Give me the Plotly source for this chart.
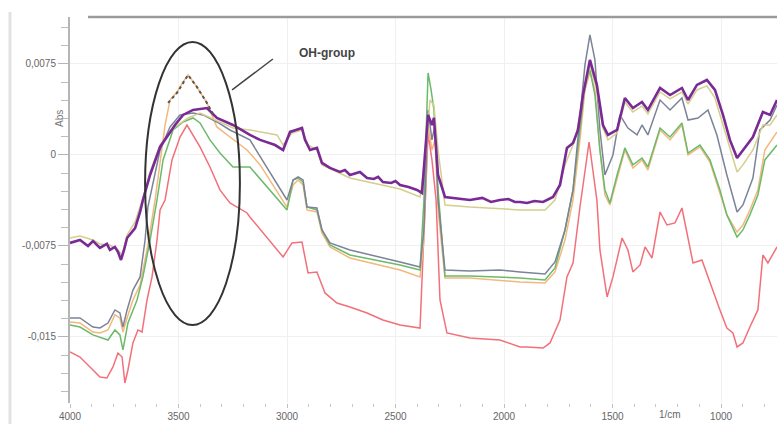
import plotly.graph_objects as go

# FTIR spectra: (wavenumber 1/cm, absorbance)
PURPLE = [(4000,-0.00725),(3954,-0.00701),(3917,-0.00750),(3894,-0.00709),(3862,-0.00766),(3830,-0.00733),
          (3816,-0.00783),(3793,-0.00758),(3779,-0.00799),(3765,-0.00865),(3751,-0.00783),(3737,-0.00684),
          (3700,-0.00602),(3677,-0.00470),(3664,-0.00371),(3631,-0.00165),(3585,0.00066),(3516,0.00247),
          (3479,0.00330),(3433,0.00371),(3369,0.00387),(3323,0.00305),(3249,0.00247),(3171,0.00165),
          (3124,0.00124),(3055,0.00082),(3018,0.00041),(2986,0.00190),(2959,0.00206),(2931,0.00222),
          (2917,0.00124),(2894,0.00041),(2862,0.00058),(2839,-0.00066),(2802,-0.00107),(2756,-0.00140),
          (2733,-0.00124),(2710,-0.00165),(2664,-0.00140),(2631,-0.00190),(2600,-0.00198),(2580,-0.00180),
          (2558,-0.00223),(2520,-0.00231),(2500,-0.00215),(2479,-0.00247),(2440,-0.00264),(2401,-0.00288),
          (2378,-0.00313),
          (2364,0.00041),(2350,0.00330),(2332,0.00247),(2323,0.00305),(2304,-0.00165),(2272,-0.00346),
          (2157,-0.00371),(2100,-0.00354),(2060,-0.00387),(2019,-0.00371),(1980,-0.00363),(1950,-0.00387),
          (1926,-0.00387),(1894,-0.00396),(1860,-0.00379),(1820,-0.00387),(1774,-0.00346),
          (1742,-0.00247),(1710,0.00058),(1682,0.00099),(1659,0.00206),(1636,0.00494),(1604,0.00783),
          (1572,0.00577),(1544,0.00247),(1521,0.00165),(1479,0.00206),(1443,0.00470),(1406,0.00387),
          (1364,0.00437),(1337,0.00371),(1281,0.00552),(1235,0.00494),(1180,0.00552),(1152,0.00453),
          (1111,0.00577),(1065,0.00618),(1028,0.00536),(991,0.00330),(959,0.00124),(926,-0.00025),
          (899,0.00041),(853,0.00148),(807,0.00354),(774,0.00330),(742,0.00453)]

PALE = [(4000,-0.00684),(3954,-0.00668),(3894,-0.00701),(3862,-0.00733),(3816,-0.00742),(3779,-0.00783),
        (3760,-0.00824),(3737,-0.00659),(3700,-0.00552),(3664,-0.00354),(3631,-0.00140),(3585,0.00082),
        (3516,0.00231),(3456,0.00305),(3401,0.00346),(3332,0.00288),(3249,0.00222),(3171,0.00206),
        (3046,0.00165),(3018,0.00082),(2977,0.00181),(2931,0.00206),(2903,0.00082),(2862,0.00041),
        (2839,-0.00082),(2710,-0.00190),(2479,-0.00280),(2387,-0.00346),(2364,-0.00041),(2341,0.00453),
        (2323,0.00412),(2304,0.00041),(2272,-0.00412),(2157,-0.00429),(1926,-0.00453),(1811,-0.00453),
        (1765,-0.00371),(1719,-0.00082),(1673,0.00124),(1636,0.00453),(1604,0.00742),(1572,0.00536),
        (1544,0.00222),(1521,0.00124),(1479,0.00181),(1443,0.00437),(1406,0.00354),(1364,0.00404),
        (1337,0.00338),(1281,0.00519),(1235,0.00462),(1180,0.00519),(1152,0.00420),(1111,0.00536),
        (1065,0.00569),(1028,0.00470),(991,0.00247),(959,0.00041),(926,-0.00140),(899,-0.00082),
        (853,0.00041),(807,0.00247),(774,0.00247),(742,0.00330)]

GRAY = [(4000,-0.01343),(3954,-0.01343),(3894,-0.01418),(3862,-0.01426),(3825,-0.01385),(3793,-0.01277),
        (3770,-0.01302),(3756,-0.01418),(3737,-0.01277),(3710,-0.01113),(3677,-0.01005),(3654,-0.00701),
        (3641,-0.00429),(3622,-0.00264),(3585,0.00041),(3539,0.00231),(3493,0.00330),(3433,0.00346),
        (3387,0.00330),(3323,0.00272),(3263,0.00206),(3171,0.00124),(3000,-0.00371),(2972,-0.00206),
        (2949,-0.00181),(2926,-0.00206),(2908,-0.00429),(2862,-0.00437),(2839,-0.00618),(2802,-0.00725),
        (2710,-0.00783),(2479,-0.00882),(2387,-0.00923),(2369,-0.00618),(2350,0.00371),(2332,0.00124),
        (2318,0.00247),(2304,-0.00371),(2272,-0.00948),(2157,-0.00956),(2019,-0.00948),(1926,-0.00964),
        (1811,-0.00981),(1765,-0.00882),(1719,-0.00618),(1682,-0.00288),(1650,0.00288),(1627,0.00742),
        (1604,0.00989),(1581,0.00783),(1558,0.00206),(1535,-0.00165),(1498,0.0),(1466,0.00330),
        (1429,0.00222),(1387,0.00165),(1364,0.00247),(1337,0.00165),(1281,0.00453),(1235,0.00371),
        (1180,0.00470),(1152,0.00288),(1106,0.00305),(1060,0.00371),(1019,0.00165),(973,-0.00165),
        (926,-0.00470),(899,-0.00412),(853,-0.00190),(821,0.00206),(774,0.00288),(742,0.00412)]

ORANGE = [(4000,-0.01376),(3954,-0.01385),(3894,-0.01459),(3862,-0.01467),(3825,-0.01442),(3793,-0.01318),
          (3770,-0.01343),(3756,-0.01459),(3737,-0.01343),(3710,-0.01195),(3677,-0.01071),(3641,-0.00742),
          (3608,-0.00371),(3585,-0.00041),(3562,0.00247),(3539,0.00453),(3507,0.00519),(3479,0.00602),
          (3456,0.00659),(3438,0.00618),(3415,0.00560),(3369,0.00429),(3323,0.00231),(3263,0.00148),
          (3184,0.00041),(3124,-0.00082),(3000,-0.00429),(2972,-0.00247),(2949,-0.00206),(2926,-0.00247),
          (2908,-0.00453),(2862,-0.00470),(2839,-0.00643),(2802,-0.00758),(2710,-0.00849),(2479,-0.00948),
          (2387,-0.01005),(2369,-0.00701),(2350,0.00247),(2332,0.00041),(2318,0.00124),(2304,-0.00453),
          (2272,-0.01014),(2157,-0.01014),(1926,-0.01047),(1811,-0.01055),(1765,-0.00964),(1719,-0.00701),
          (1682,-0.00371),(1650,0.00124),(1627,0.00536),(1604,0.00684),(1581,0.00536),(1558,0.00041),
          (1535,-0.00330),(1512,-0.00412),(1479,-0.00190),(1443,0.00041),(1406,-0.00107),(1364,-0.00041),
          (1337,-0.00124),(1281,0.00206),(1235,0.00124),(1180,0.00247),(1152,0.0),(1097,0.00066),
          (1051,-0.00058),(1005,-0.00305),(973,-0.00494),(926,-0.00635),(899,-0.00577),(867,-0.00453),
          (830,-0.00288),(798,0.00041),(742,0.00190)]

GREEN = [(4000,-0.01401),(3954,-0.01418),(3894,-0.01483),(3862,-0.01500),(3825,-0.01525),(3793,-0.01442),
         (3770,-0.01483),(3756,-0.01607),(3733,-0.01385),(3691,-0.01195),(3664,-0.01005),(3631,-0.00701),
         (3599,-0.00371),(3571,-0.00041),(3525,0.00206),(3479,0.00272),(3433,0.00305),(3401,0.00264),
         (3355,0.00124),(3309,0.00016),(3249,-0.00099),(3171,-0.00099),(3000,-0.00453),(2972,-0.00206),
         (2949,-0.00190),(2926,-0.00223),(2908,-0.00429),(2862,-0.00453),(2839,-0.00618),(2802,-0.00742),
         (2710,-0.00824),(2479,-0.00906),(2387,-0.00948),(2369,-0.00371),(2350,0.00676),(2336,0.00536),
         (2323,0.00371),(2304,-0.00288),(2272,-0.00997),(2157,-0.00997),(1926,-0.01014),(1811,-0.01030),
         (1765,-0.00931),(1719,-0.00618),(1682,-0.00288),(1650,0.00206),(1627,0.00577),(1604,0.00701),
         (1581,0.00494),(1558,0.00041),(1535,-0.00288),(1512,-0.00396),(1479,-0.00165),(1443,0.00058),
         (1406,-0.00082),(1364,-0.00025),(1337,-0.00099),(1281,0.00222),(1235,0.00148),(1180,0.00264),
         (1152,0.00016),(1097,0.00082),(1051,-0.00041),(1005,-0.00288),(973,-0.00494),(926,-0.00676),
         (899,-0.00618),(867,-0.00494),(830,-0.00330),(798,-0.00041),(742,0.00082)]

RED = [(4000,-0.01624),(3954,-0.01665),(3894,-0.01772),(3862,-0.01830),(3830,-0.01838),(3802,-0.01747),
       (3779,-0.01632),(3760,-0.01665),(3747,-0.01879),(3733,-0.01772),(3710,-0.01549),(3687,-0.01442),
       (3668,-0.01459),(3645,-0.01195),(3622,-0.01005),(3599,-0.00701),(3585,-0.00453),(3562,-0.00371),
       (3530,-0.00041),(3493,0.00148),(3461,0.00247),(3438,0.00181),(3401,0.00066),(3355,-0.00099),
       (3309,-0.00288),(3263,-0.00396),(3184,-0.00478),(3171,-0.00511),(3018,-0.00841),(2977,-0.00725),
       (2931,-0.00717),(2903,-0.00972),(2862,-0.00964),(2825,-0.01137),(2770,-0.01220),(2710,-0.01253),
       (2631,-0.01302),(2558,-0.01360),(2479,-0.01401),(2387,-0.01426),(2373,-0.00783),(2350,0.00181),
       (2332,-0.00041),(2313,-0.00371),(2295,-0.01195),(2263,-0.01467),(2157,-0.01508),(2019,-0.01525),
       (1926,-0.01582),(1894,-0.01582),(1820,-0.01591),(1788,-0.01549),(1742,-0.01360),(1710,-0.01005),
       (1682,-0.00890),(1650,-0.00429),(1608,0.00107),(1572,-0.00371),(1558,-0.00783),(1525,-0.01170),
       (1498,-0.01005),(1456,-0.00684),(1429,-0.00783),(1406,-0.00964),(1373,-0.00906),(1350,-0.00758),
       (1318,-0.00849),(1281,-0.00470),(1249,-0.00577),(1212,-0.00560),(1180,-0.00437),(1129,-0.00890),
       (1088,-0.00865),(1051,-0.01055),(1005,-0.01277),(973,-0.01426),(945,-0.01467),(926,-0.01582),
       (899,-0.01549),(867,-0.01418),(830,-0.01277),(807,-0.00824),(784,-0.00890),(742,-0.00758)]

DOTTED = [(3548,0.00429),(3507,0.00511),(3456,0.00659),(3415,0.00560),(3369,0.00429),(3341,0.00338)]

X_TICKS = [4000, 3500, 3000, 2500, 2000, 1500, 1000]
Y_TICKS = [0.0075, 0, -0.0075, -0.015]
Y_TICK_TEXT = ["0,0075", "0", "-0,0075", "-0,015"]

series = [
    (RED, "#f2707a", 1.5, "solid"),
    (ORANGE, "#f3b87c", 1.5, "solid"),
    (GREEN, "#6bba6b", 1.5, "solid"),
    (GRAY, "#7c8398", 1.5, "solid"),
    (PALE, "#d3cf8c", 1.5, "solid"),
    (PURPLE, "#7a2a95", 2.6, "solid"),
    (DOTTED, "#555555", 2.0, "dot"),
]

fig = go.Figure()
for data, color, width, dash in series:
    xs = [p[0] for p in data]
    ys = [p[1] for p in data]
    fig.add_trace(go.Scatter(x=xs, y=ys, mode="lines",
                             line=dict(color=color, width=width, dash=dash),
                             showlegend=False, hoverinfo="skip"))

font = "Liberation Sans, Arial, sans-serif"
fig.update_layout(
    width=777, height=424,
    margin=dict(l=70, r=0, t=17, b=21),
    paper_bgcolor="white", plot_bgcolor="white",
    font=dict(family=font, size=10, color="#666"),
    xaxis=dict(range=[4000, 742], tickvals=X_TICKS, ticktext=[str(v) for v in X_TICKS],
               showgrid=True, gridcolor="#f0f0f0", gridwidth=1, zeroline=False, showline=False,
               ticks="outside", ticklen=4, tickcolor="#c0c0c0",
               minor=dict(dtick=100, ticks="outside", ticklen=3, tickcolor="#c8c8c8", showgrid=False),
               tickfont=dict(size=10, color="#666")),
    yaxis=dict(range=[-0.02044, 0.01137], tickvals=Y_TICKS, ticktext=Y_TICK_TEXT,
               showgrid=True, gridcolor="#f0f0f0", gridwidth=1, zeroline=False,
               showline=True, linecolor="#b5b5b5", linewidth=2,
               ticks="outside", ticklen=10, tickcolor="#b5b5b5",
               minor=dict(dtick=0.0015, ticks="outside", ticklen=7, tickcolor="#bdbdbd", showgrid=False),
               tickfont=dict(size=10, color="#666")),
)

fig.add_shape(type="circle", xref="x", yref="y", x0=3654, x1=3217, y0=-0.01401, y1=0.00931,
              line=dict(color="#333", width=2))
fig.add_shape(type="line", xref="x", yref="y", x0=3253, y0=0.00536, x1=3065, y1=0.00791,
              line=dict(color="#444", width=1.5))
fig.add_shape(type="line", xref="paper", yref="paper", x0=0.0255, x1=1, y0=1, y1=1,
              line=dict(color="#9a9a9a", width=2.5))
fig.add_shape(type="line", xref="paper", yref="paper", x0=-0.0849, x1=-0.0849, y0=-0.06, y1=1.013,
              line=dict(color="#e2e2e2", width=3))

fig.add_annotation(x=2816, y=0.00841, xref="x", yref="y", text="<b>OH-group</b>", showarrow=False,
                   font=dict(size=12, color="#444", family=font))
fig.add_annotation(x=-0.0255, y=0.003, xref="paper", yref="y", text="Abs", textangle=-90,
                   showarrow=False, font=dict(size=10, color="#777", family=font))
fig.add_annotation(x=1235, y=-0.0285, xref="x", yref="paper", text="1/cm", showarrow=False,
                   yanchor="middle", font=dict(size=10, color="#666", family=font))

fig.write_html("out.html", config={"displayModeBar": False},
               post_script="document.body.style.margin='0';document.body.style.overflow='hidden';")
